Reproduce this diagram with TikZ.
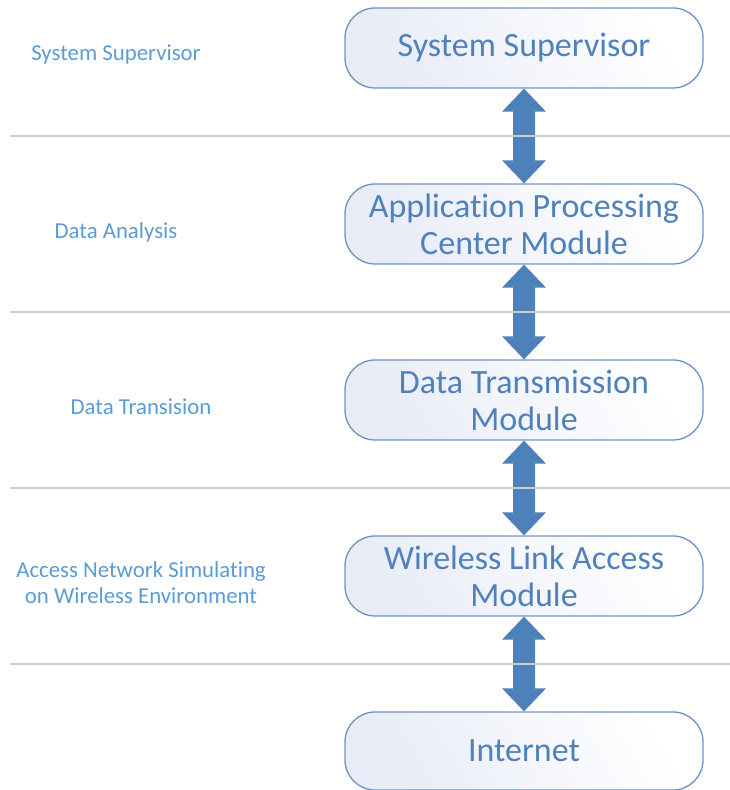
\documentclass[tikz,border=0pt]{standalone}
\usepackage{fontspec}
\setmainfont[Ligatures={NoCommon}]{Carlito}
\usepackage{tikz}
\usetikzlibrary{positioning,calc}
\definecolor{boxtext}{RGB}{79,129,189}
\definecolor{sidetext}{RGB}{91,155,213}
\definecolor{boxedge}{RGB}{108,149,199}
\definecolor{boxtint}{RGB}{232,236,247}
\definecolor{arrowblue}{RGB}{76,129,186}
\definecolor{rulegray}{RGB}{205,205,205}

% double block arrow between two boxes stacked vertically
\newcommand{\dblarrow}[2]{%
  \fill[arrowblue] (#1.south) -- ++(22,-23) -- ++(-11,0)
    -- ([xshift=11,yshift=23]#2.north) -- ++(11,0) -- (#2.north)
    -- ++(-22,23) -- ++(11,0) -- ([xshift=-11,yshift=-23]#1.south)
    -- ++(-11,0) -- cycle;}

\begin{document}
\begin{tikzpicture}[x=1pt,y=1pt,
    layerbox/.style={draw=boxedge, line width=1.3pt, rounded corners=30pt,
      minimum width=358pt, minimum height=80pt, align=center,
      left color=boxtint, right color=white, shading angle=120,
      text=boxtext, font=\fontsize{34}{37}\selectfont},
    sidelabel/.style={text=sidetext, align=center,
      font=\fontsize{22.8}{26}\selectfont}]
  \useasboundingbox (0,0) rectangle (730,790);

  % modules
  \node[layerbox] (sup) at (524,742) {System Supervisor};
  \node[layerbox] (apc) at (524,566) {Application Processing\\Center Module};
  \node[layerbox] (dtm) at (524,390) {Data Transmission\\Module};
  \node[layerbox] (wla) at (524,214) {Wireless Link Access\\Module};
  \node[layerbox, minimum height=78pt] (net) at (524,39) {Internet};

  \dblarrow{sup}{apc}
  \dblarrow{apc}{dtm}
  \dblarrow{dtm}{wla}
  \dblarrow{wla}{net}

  % layer separators
  \foreach \y in {654,478,302,126}
    \draw[rulegray, line width=1.2pt] (10,\y) -- (730,\y);

  % layer names
  \node[sidelabel] (lsup) at (116,735) {System Supervisor};
  \node[sidelabel] (lana) at (116,558) {Data Analysis};
  \node[sidelabel] (ltra) at (141,383) {Data Transision};
  \node[sidelabel] (lacc) at (141,207) {Access Network Simulating\\on Wireless Environment};
\end{tikzpicture}
\end{document}
